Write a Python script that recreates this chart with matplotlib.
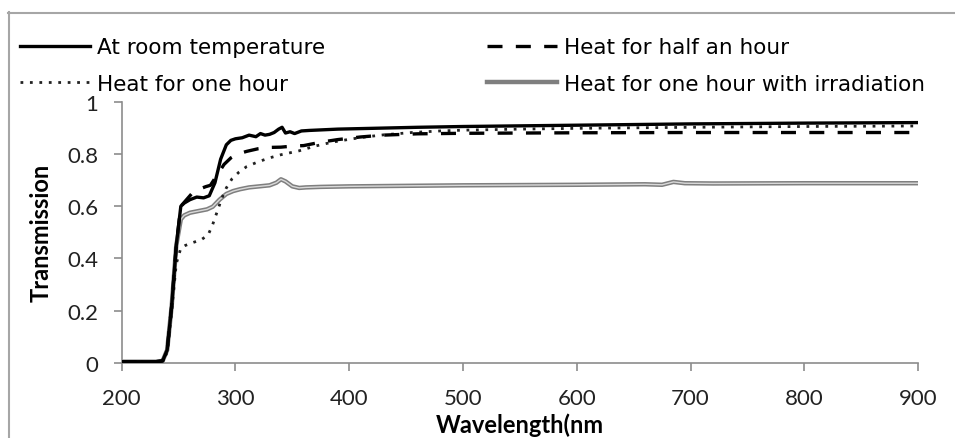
import matplotlib
matplotlib.use("Agg")
import matplotlib.pyplot as plt
from matplotlib.lines import Line2D

# wavelength (nm) / transmission readings per sample
wl_room = [200, 230, 236, 240, 244, 248, 252, 255, 260, 266, 272, 277, 282, 287, 292, 296, 300, 306,
           312, 318, 322, 326, 330, 334, 338, 341, 344, 348, 352, 358, 365, 375, 390, 420, 460, 500,
           600, 700, 800, 900]
t_room = [0.005, 0.005, 0.008, 0.05, 0.22, 0.45, 0.6, 0.612, 0.625, 0.635, 0.632, 0.64, 0.69, 0.78,
          0.835, 0.852, 0.858, 0.862, 0.872, 0.866, 0.878, 0.872, 0.875, 0.882, 0.895, 0.902, 0.88,
          0.885, 0.878, 0.888, 0.89, 0.892, 0.895, 0.898, 0.902, 0.905, 0.91, 0.915, 0.918, 0.92]

wl_half = [200, 230, 236, 240, 244, 248, 252, 256, 262, 268, 274, 278, 284, 290, 296, 302, 310, 320,
           330, 340, 350, 360, 375, 390, 410, 430, 460, 500, 600, 700, 800, 900]
t_half = [0.005, 0.005, 0.008, 0.05, 0.22, 0.45, 0.6, 0.62, 0.65, 0.665, 0.675, 0.68, 0.72, 0.76,
          0.785, 0.8, 0.81, 0.82, 0.825, 0.826, 0.83, 0.832, 0.845, 0.855, 0.865, 0.872, 0.877,
          0.879, 0.881, 0.882, 0.882, 0.882]

wl_hour = [200, 230, 236, 240, 244, 248, 252, 256, 262, 270, 276, 280, 284, 288, 292, 297, 303, 310,
           320, 330, 340, 356, 370, 385, 400, 414, 430, 455, 480, 500, 550, 600, 700, 800, 900]
t_hour = [0.005, 0.005, 0.008, 0.04, 0.2, 0.38, 0.44, 0.45, 0.46, 0.472, 0.49, 0.53, 0.58, 0.63,
          0.67, 0.705, 0.73, 0.752, 0.77, 0.785, 0.797, 0.812, 0.83, 0.845, 0.856, 0.865, 0.873,
          0.882, 0.888, 0.891, 0.895, 0.898, 0.902, 0.905, 0.907]

wl_irr = [200, 230, 236, 240, 244, 248, 252, 255, 260, 268, 275, 280, 286, 292, 298, 304, 312, 321,
          330, 336, 340, 344, 350, 356, 362, 375, 400, 450, 500, 600, 660, 675, 685, 695, 720, 800, 900]
t_irr = [0.005, 0.005, 0.008, 0.05, 0.22, 0.45, 0.55, 0.565, 0.575, 0.582, 0.588, 0.598, 0.625,
         0.647, 0.658, 0.665, 0.672, 0.676, 0.68, 0.69, 0.703, 0.695, 0.676, 0.67, 0.672, 0.674,
         0.676, 0.678, 0.68, 0.682, 0.684, 0.682, 0.693, 0.688, 0.687, 0.688, 0.688]

fig = plt.figure(figsize=(9.55, 4.39), dpi=100)
ax = fig.add_axes([0.1274, 0.1708, 0.8339, 0.5953])

ax.plot(wl_irr, t_irr, color="#7f7f7f", lw=3.2, label="Heat for one hour with irradiation", zorder=2)
ax.plot(wl_irr, t_irr, color="#d9d9d9", lw=1.0, zorder=2.1)
ax.plot(wl_hour, t_hour, color="#222222", lw=2.0, ls=(0, (1, 2.4)), label="Heat for one hour", zorder=3)
ax.plot(wl_half, t_half, color="black", lw=2.4, ls=(0, (4.5, 4)), label="Heat for half an hour", zorder=4)
ax.plot(wl_room, t_room, color="black", lw=2.4, label="At room temperature", zorder=5)

ax.set_xlim(200, 900)
ax.set_ylim(0, 1)
ax.set_xticks(range(200, 901, 100))
ax.set_yticks([0, 0.2, 0.4, 0.6, 0.8, 1])
ax.set_yticklabels(["0", "0.2", "0.4", "0.6", "0.8", "1"])

for s in ["top", "right"]:
    ax.spines[s].set_visible(False)
for s in ["left", "bottom"]:
    ax.spines[s].set_color("#8c8c8c")
    ax.spines[s].set_linewidth(1.2)
ax.tick_params(direction="out", length=6, width=1.2, color="#8c8c8c", labelsize=16,
               labelcolor="#222222")
ax.tick_params(axis="x", pad=12)
ax.tick_params(axis="y", pad=11)
for lab in ax.get_xticklabels() + ax.get_yticklabels():
    lab.set_family("Lato")

ax.set_xlabel("Wavelength(nm", family="Lato", weight="bold", fontsize=17, labelpad=3.5)
ax.set_ylabel("Transmission", family="Lato", weight="bold", fontsize=17, labelpad=10)

h, l = ax.get_legend_handles_labels()
order = [3, 1, 2, 0]
fig.legend([h[i] for i in order], [l[i] for i in order], ncol=2, frameon=False,
           loc="upper left", bbox_to_anchor=(0.021, 0.913), borderpad=0, borderaxespad=0,
           handlelength=3.25, handletextpad=0.33, columnspacing=7.5, labelspacing=0.76,
           prop={"family": "DejaVu Sans", "size": 15.5})

# chart-area border (only top and left visible in the crop)
fig.add_artist(Line2D([8.5 / 955, 8.5 / 955], [0, 1 - 13 / 439], color="#a6a6a6", lw=1.5))
fig.add_artist(Line2D([8 / 955, 1], [1 - 13.5 / 439, 1 - 13.5 / 439], color="#a6a6a6", lw=1.5))

fig.savefig("out.png", dpi=100)
